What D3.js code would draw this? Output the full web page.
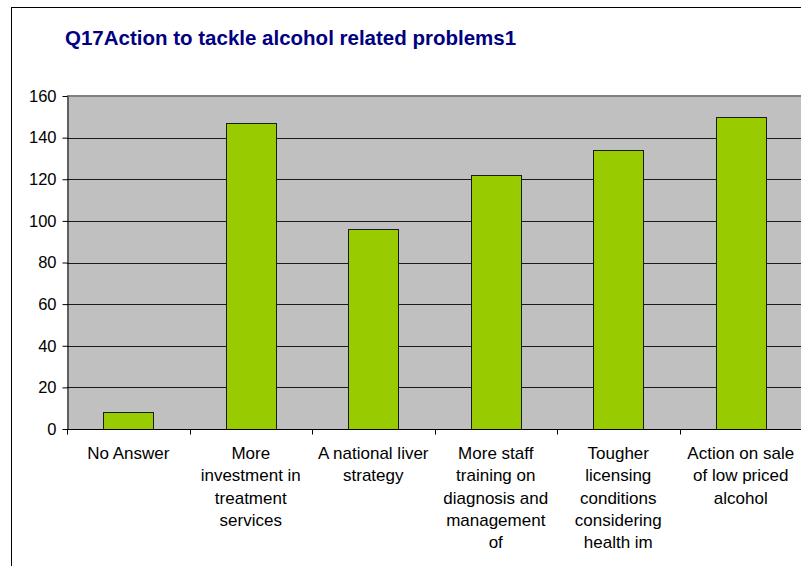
<!DOCTYPE html>
<html>
<head>
<meta charset="utf-8">
<script src="https://cdn.jsdelivr.net/npm/d3@7"></script>
<style>
  html, body { margin: 0; padding: 0; background: #fff; }
  svg { display: block; font-family: "Liberation Sans", Arial, sans-serif; }
</style>
</head>
<body>
<svg id="chart" width="801" height="566"></svg>
<script>
// Survey responses: number of respondents choosing each action
const title = "Q17Action to tackle alcohol related problems1";
const categories = [
  "No Answer",
  "More\ninvestment in\ntreatment\nservices",
  "A national liver\nstrategy",
  "More staff\ntraining on\ndiagnosis and\nmanagement\nof",
  "Tougher\nlicensing\nconditions\nconsidering\nhealth im",
  "Action on sale\nof low priced\nalcohol"
];
const values = [8, 147, 96, 122, 134, 150];
const yTicks = [0, 20, 40, 60, 80, 100, 120, 140, 160];

const svg = d3.select("#chart");
const W = 801, H = 566;
const plot = { left: 67, right: 802, top: 96, bottom: 429 };

// Outer chart frame (left and top edges visible)
svg.append("line").attr("x1", 11.5).attr("x2", 11.5).attr("y1", 7.5).attr("y2", H)
  .attr("stroke", "#000").attr("stroke-width", 1);
svg.append("line").attr("x1", 11).attr("x2", W).attr("y1", 7.5).attr("y2", 7.5)
  .attr("stroke", "#000").attr("stroke-width", 1);

// Title
svg.append("text")
  .attr("x", 65).attr("y", 45)
  .attr("fill", "#000080")
  .attr("font-weight", "bold")
  .attr("font-size", "20.5px")
  .text(title);

const x = d3.scaleBand().domain(d3.range(categories.length))
  .range([plot.left, plot.right]).padding(0);
const y = d3.scaleLinear().domain([0, 160]).range([plot.bottom, plot.top]);

// Plot area background
svg.append("rect")
  .attr("x", plot.left).attr("y", plot.top)
  .attr("width", plot.right - plot.left).attr("height", plot.bottom - plot.top)
  .attr("fill", "#c0c0c0");

// Horizontal gridlines
svg.append("g").selectAll("line")
  .data(yTicks.filter(t => t > 0 && t < 160))
  .join("line")
  .attr("x1", plot.left).attr("x2", plot.right)
  .attr("y1", d => Math.round(y(d)) + 0.5).attr("y2", d => Math.round(y(d)) + 0.5)
  .attr("stroke", "#1a1a1a").attr("stroke-width", 1);

// Top edge of the plot area
svg.append("line")
  .attr("x1", plot.left).attr("x2", plot.right)
  .attr("y1", y(160)).attr("y2", y(160))
  .attr("stroke", "#808080").attr("stroke-width", 2);

// Bars
const barW = x.bandwidth() * 0.41;
svg.append("g").selectAll("rect")
  .data(values)
  .join("rect")
  .attr("x", (d, i) => Math.round(x(i) + x.bandwidth() / 2 - barW / 2) + 0.5)
  .attr("y", d => Math.round(y(d)) + 0.5)
  .attr("width", Math.round(barW))
  .attr("height", d => Math.round(y(0)) - Math.round(y(d)))
  .attr("fill", "#99cc00")
  .attr("stroke", "#1a1a1a").attr("stroke-width", 1);

// Y axis
const yAxis = svg.append("g")
  .attr("transform", `translate(${plot.left + 0.5},0)`)
  .call(d3.axisLeft(y).tickValues(yTicks).tickSize(5).tickPadding(6).tickSizeOuter(0));
yAxis.select(".domain").attr("stroke", "#000");
yAxis.selectAll(".tick line").attr("stroke", "#000");
yAxis.selectAll(".tick text")
  .attr("font-family", "Liberation Sans, Arial, sans-serif")
  .attr("font-size", "16.5px").attr("fill", "#000");

// X axis with ticks at category boundaries
const xAxisG = svg.append("g").attr("transform", `translate(0,${plot.bottom + 0.5})`);
xAxisG.append("line")
  .attr("x1", plot.left).attr("x2", plot.right)
  .attr("stroke", "#000");
xAxisG.selectAll("line.tk")
  .data(d3.range(categories.length + 1))
  .join("line").attr("class", "tk")
  .attr("x1", i => Math.round(plot.left + i * x.step()) + 0.5)
  .attr("x2", i => Math.round(plot.left + i * x.step()) + 0.5)
  .attr("y1", 0).attr("y2", 5)
  .attr("stroke", "#000");

// Category labels, one line per tspan
const labels = svg.append("g").selectAll("text")
  .data(categories)
  .join("text")
  .attr("text-anchor", "middle")
  .attr("font-size", "17px")
  .attr("fill", "#000")
  .attr("transform", (d, i) => `translate(${x(i) + x.bandwidth() / 2},459)`);
labels.selectAll("tspan")
  .data(d => d.split("\n"))
  .join("tspan")
  .attr("x", 0)
  .attr("y", (d, j) => j * 22.3)
  .text(d => d);
</script>
</body>
</html>
